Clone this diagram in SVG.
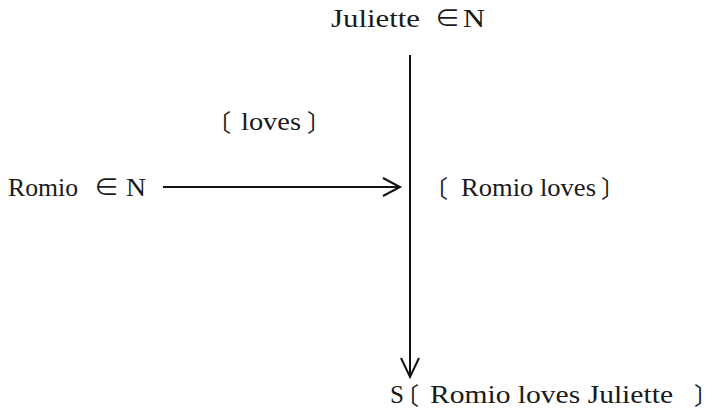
<svg xmlns="http://www.w3.org/2000/svg" width="712" height="415" viewBox="0 0 712 415">
<style>
text{font-family:"Liberation Serif","Noto Sans CJK JP",serif;font-size:25px;fill:#1a1a1a}
.br{font-family:"Noto Sans CJK JP",serif;font-size:24px;font-weight:400;font-feature-settings:"halt" 1}
.ln{stroke:#111;stroke-width:2;fill:none}
</style>
<rect width="712" height="415" fill="#fff"/>
<g id="juliette">
<text y="27"><tspan x="331" textLength="89" lengthAdjust="spacingAndGlyphs">Juliette</tspan><tspan x="435">∈</tspan><tspan x="463" textLength="22" lengthAdjust="spacingAndGlyphs">N</tspan></text>
</g>
<g id="romio">
<text y="196"><tspan x="8" textLength="70" lengthAdjust="spacingAndGlyphs">Romio</tspan><tspan x="94">∈</tspan><tspan x="126" textLength="20" lengthAdjust="spacingAndGlyphs">N</tspan></text>
</g>
<g id="loves">
<text y="130"><tspan class="br" x="219" dy="1">〔</tspan><tspan x="241" dy="-1" textLength="60" lengthAdjust="spacingAndGlyphs">loves</tspan><tspan class="br" x="307" dy="1">〕</tspan></text>
</g>
<g id="romio-loves">
<text y="196"><tspan class="br" x="436" dy="1">〔</tspan><tspan x="461" dy="-1" textLength="135" lengthAdjust="spacingAndGlyphs">Romio loves</tspan><tspan class="br" x="601" dy="1">〕</tspan></text>
</g>
<g id="sentence">
<text y="403"><tspan x="390">S</tspan><tspan class="br" x="407" dy="1">〔</tspan><tspan x="430" dy="-1" textLength="243" lengthAdjust="spacingAndGlyphs">Romio loves Juliette</tspan><tspan class="br" x="694" dy="1">〕</tspan></text>
</g>
<g id="connectors">
<path class="ln" d="M163 187H400M383 178L400 187L383 196"/>
<path class="ln" d="M410 55V377M401 358L410 377L419 358"/>
</g>
</svg>
